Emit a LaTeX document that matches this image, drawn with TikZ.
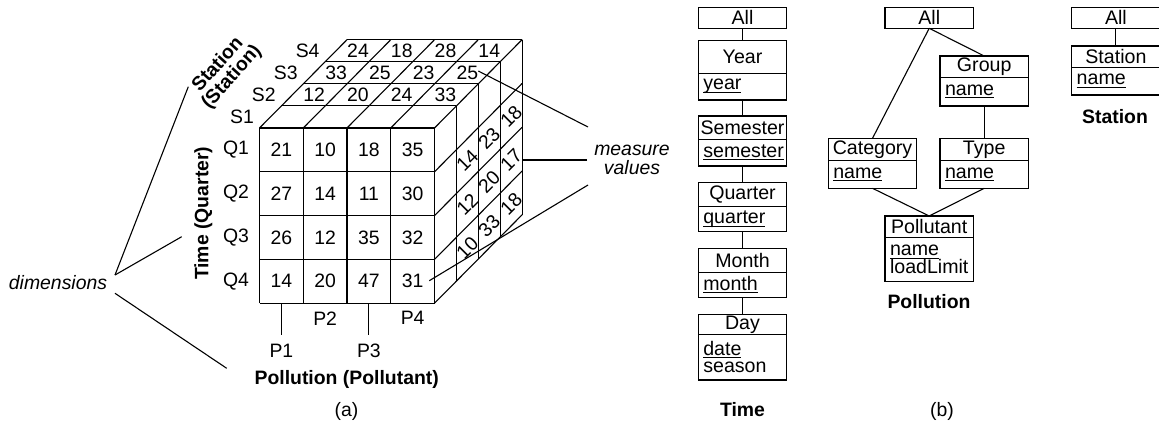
\documentclass[tikz,border=0pt]{standalone}
\usepackage{fontspec}
\setmainfont{Liberation Sans}
\newsavebox{\ulzbox}
\newcommand{\ulz}[1]{\sbox{\ulzbox}{#1}\rlap{\rule[-1.5pt]{\wd\ulzbox}{0.5pt}}#1}
\begin{document}
\begin{tikzpicture}[x=0.5pt,y=-0.5pt,line width=0.55pt,
  lbl/.style={font=\fontsize{9.7}{11}\selectfont, inner sep=0},
  bld/.style={font=\fontsize{9.7}{11}\selectfont\bfseries, inner sep=0},
  itl/.style={font=\fontsize{9.7}{9.5}\selectfont\itshape, inner sep=0, align=center},
  hdr/.style={draw, inner sep=0, outer sep=0pt, minimum width=44.2pt, anchor=north west, font=\fontsize{9.8}{11}\selectfont},
  attr/.style={draw, inner xsep=2.5pt, inner ysep=0, outer sep=0pt, text width=39.2pt, align=left, anchor=north west, font=\fontsize{9.8}{8.75}\selectfont}]
\useasboundingbox (0,0) rectangle (1159,440);
\def\xo{259.5}\def\yo{128}\def\cw{43.75}\def\rh{43.8}\def\dx{21.9}\def\dyy{22.1}
% front face
\foreach \i in {0,...,4} \draw (\xo+\i*\cw,\yo) -- (\xo+\i*\cw,\yo+4*\rh);
\foreach \j in {0,...,4} \draw (\xo,\yo+\j*\rh) -- (\xo+4*\cw,\yo+\j*\rh);
% top face
\foreach \k in {1,...,4} \draw (\xo+\k*\dx,\yo-\k*\dyy) -- (\xo+4*\cw+\k*\dx,\yo-\k*\dyy);
\foreach \i in {0,...,4} \draw (\xo+\i*\cw,\yo) -- (\xo+\i*\cw+4*\dx,\yo-4*\dyy);
% right face
\foreach \k in {1,...,4} \draw (\xo+4*\cw+\k*\dx,\yo-\k*\dyy) -- (\xo+4*\cw+\k*\dx,\yo+4*\rh-\k*\dyy);
\foreach \j in {1,...,4} \draw (\xo+4*\cw,\yo+\j*\rh) -- (\xo+4*\cw+4*\dx,\yo+\j*\rh-4*\dyy);
% front values
\foreach \r [count=\j from 0] in {{21,10,18,35},{27,14,11,30},{26,12,35,32},{14,20,47,31}}
  \foreach \v [count=\i from 0] in \r
    \node[lbl] (f\i\j) at (\xo+\i*\cw+0.5*\cw,\yo+\j*\rh+0.5*\rh) {\v};
% top values
\foreach \r [count=\k from 1] in {{12,20,24,33},{33,25,23,25},{24,18,28,14}}
  \foreach \v [count=\i from 0] in \r
    \node[lbl] (t\i\k) at (\xo+\i*\cw+0.5*\cw+\k*\dx+0.5*\dx,\yo-\k*\dyy-0.5*\dyy) {\v};
% right values
\foreach \r [count=\k from 1] in {{14,12,10},{23,20,33},{18,17,18}}
  \foreach \v [count=\j from 1] in \r
    \node[lbl,rotate=45] (r\k\j) at (\xo+4*\cw+\k*\dx+0.5*\dx,\yo+\j*\rh+0.5*\rh-\k*\dyy-0.5*\dyy) {\v};
% S labels
\foreach \s [count=\k from 0] in {S1,S2,S3,S4}
  \node[lbl] (s\k) at (\xo+\k*\dx+0.5*\dx-28.5,\yo-\k*\dyy-0.5*\dyy) {\s};
% Q labels
\foreach \q [count=\j from 0] in {Q1,Q2,Q3,Q4}
  \node[lbl] (q\j) at (236,\yo+\j*\rh+0.5*\rh) {\q};
% P ticks and labels
\coordinate (p1t) at (\xo+0.5*\cw,\yo+4*\rh);
\coordinate (p1b) at (\xo+0.5*\cw,335);
\coordinate (p3t) at (\xo+2.5*\cw,\yo+4*\rh);
\coordinate (p3b) at (\xo+2.5*\cw,335);
\draw (p1t) -- (p1b);
\draw (p3t) -- (p3b);
\node[lbl] (P1) at (\xo+0.5*\cw,351) {P1};
\node[lbl] (P2) at (\xo+1.5*\cw,318.3) {P2};
\node[lbl] (P3) at (\xo+2.5*\cw,351) {P3};
\node[lbl] (P4) at (\xo+3.5*\cw,318.3) {P4};
\node[bld] (polpol) at (346.7,379) {Pollution (Pollutant)};
\node[bld,rotate=90] (timeq) at (203.3,213.3) {Time (Quarter)};
\node[bld,rotate=48,align=center,font=\fontsize{9.7}{9.3}\selectfont\bfseries] (stst) at (225,71) {Station\\(Station)};
% dimensions
\node[itl] (dim) at (58,283) {dimensions};
\coordinate (dimA) at (115,275);
\coordinate (dimB) at (115,293.3);
\coordinate (dimS) at (188.3,86.7);
\coordinate (dimT) at (181.7,236.7);
\coordinate (dimP) at (226.7,368.3);
\draw (dimA) -- (dimS);
\draw (dimA) -- (dimT);
\draw (dimB) -- (dimP);
% measure values
\node[itl] (mv) at (632,160) {measure\\values};
\coordinate (mvA) at (588,127);
\coordinate (mvB) at (587,160);
\coordinate (mvC) at (588,185);
\coordinate (mv1) at (478.3,71);
\coordinate (mv2) at (\xo+4*\cw+4*\dx,160);
\coordinate (mv3) at (429.3,280.7);
\draw (mvA) -- (mv1);
\draw (mvB) -- (mv2);
\draw (mvC) -- (mv3);
\node[lbl] (capa) at (346.5,411) {(a)};
\node[lbl] (capb) at (942,411) {(b)};
% Time hierarchy
\node[hdr,minimum height=10.5pt] (tall) at (698.3,7.3) {All};
\node[hdr,minimum height=16.3pt] (yearH) at (698.3,40.7) {Year};
\node[attr,minimum height=13.35pt] (yearA) at (yearH.south west) {\ulz{year}};
\node[hdr,minimum height=11.65pt] (semH) at (698.3,116) {Semester};
\node[attr,minimum height=13.35pt] (semA) at (semH.south west) {\ulz{semester}};
\node[hdr,minimum height=12pt] (quaH) at (698.3,182.7) {Quarter};
\node[attr,minimum height=12.5pt] (quaA) at (quaH.south west) {\ulz{quarter}};
\node[hdr,minimum height=12pt] (monH) at (698.3,248.3) {Month};
\node[attr,minimum height=12.5pt] (monA) at (monH.south west) {\ulz{month}};
\node[hdr,minimum height=10pt] (dayH) at (698.3,314.3) {Day};
\node[attr,minimum height=22.85pt] (dayA) at (dayH.south west) {\ulz{date}\\season};
\draw (tall.south) -- (yearH.north);
\draw (yearA.south) -- (semH.north);
\draw (semA.south) -- (quaH.north);
\draw (quaA.south) -- (monH.north);
\draw (monA.south) -- (dayH.north);
\node[bld] (timeL) at (742.5,410) {Time};
% Pollution hierarchy
\node[hdr,minimum height=10.5pt] (pall) at (885,7.3) {All};
\node[hdr,minimum height=10.65pt] (grpH) at (940,56) {Group};
\node[attr,minimum height=14.35pt] (grpA) at (grpH.south west) {\ulz{name}};
\node[hdr,minimum height=11.2pt] (catH) at (828.3,138.3) {Category};
\node[attr,minimum height=13.8pt] (catA) at (catH.south west) {\ulz{name}};
\node[hdr,minimum height=11.2pt] (typH) at (940,138.3) {Type};
\node[attr,minimum height=13.8pt] (typA) at (typH.south west) {\ulz{name}};
\node[hdr,minimum height=10.65pt] (polH) at (885,216) {Pollutant};
\node[attr,minimum height=22.2pt] (polA) at (polH.south west) {\ulz{name}\\loadLimit};
\draw (pall.south) -- (catH.north);
\draw (pall.south) -- (grpH.north);
\draw (grpA.south) -- (typH.north);
\draw (catA.south) -- (polH.north);
\draw (typA.south) -- (polH.north);
\node[bld] (polL) at (929,301.7) {Pollution};
% Station hierarchy
\node[hdr,minimum height=10.5pt] (sall) at (1071.7,7.3) {All};
\node[hdr,minimum height=10.65pt] (staH) at (1071.7,46) {Station};
\node[attr,minimum height=13.85pt] (staA) at (staH.south west) {\ulz{name}};
\draw (sall.south) -- (staH.north);
\node[bld] (staL) at (1115,116.7) {Station};
\end{tikzpicture}
\end{document}
